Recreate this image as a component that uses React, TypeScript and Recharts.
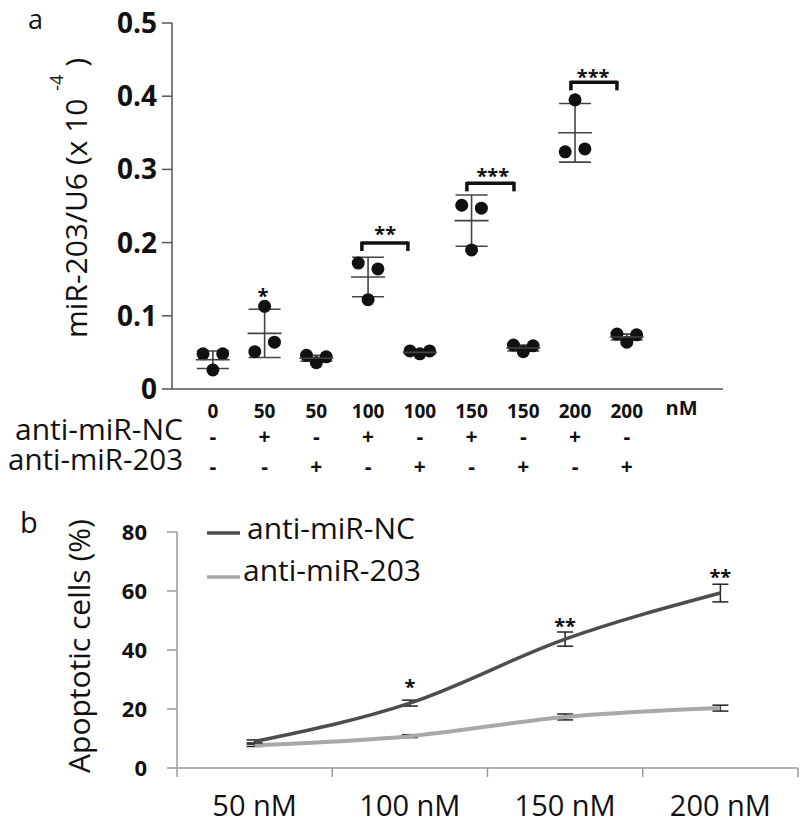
import React from 'react';
import {
  ComposedChart,
  Scatter,
  XAxis,
  YAxis,
  ErrorBar,
  ReferenceLine,
  Line,
} from 'recharts';

const FONT = '"Open Sans", "DejaVu Sans", sans-serif';
const INK = '#111111';

// ---------- Panel a data ----------
const concentrations = ['0', '50', '50', '100', '100', '150', '150', '200', '200'];
const unitLabel = 'nM';
const ncSigns = ['-', '+', '-', '+', '-', '+', '-', '+', '-'];
const mirSigns = ['-', '-', '+', '-', '+', '-', '+', '-', '+'];
const rowLabels = ['anti-miR-NC', 'anti-miR-203'];
// replicate values per group: [left, right, centre]
const replicates = [
  [0.048, 0.048, 0.026],
  [0.051, 0.064, 0.113],
  [0.046, 0.044, 0.036],
  [0.172, 0.164, 0.122],
  [0.052, 0.052, 0.048],
  [0.251, 0.247, 0.19],
  [0.06, 0.059, 0.051],
  [0.324, 0.328, 0.395],
  [0.075, 0.074, 0.064],
];
const groupMeans = [0.04, 0.076, 0.042, 0.153, 0.05, 0.23, 0.056, 0.35, 0.071];
const groupSD = [0.012, 0.033, 0.004, 0.027, 0.002, 0.035, 0.004, 0.04, 0.004];
const starsA = [
  { x: 0.97, y: 0.1325, text: '*' },
  { x: 3.33, y: 0.217, text: '**' },
  { x: 5.41, y: 0.296, text: '***' },
  { x: 7.35, y: 0.432, text: '***' },
];
const bracketsA = [
  { x1: 2.88, x2: 3.77, y: 0.1995 },
  { x1: 4.91, x2: 5.82, y: 0.281 },
  { x1: 6.92, x2: 7.81, y: 0.419 },
];
const yTicksA = [0, 0.1, 0.2, 0.3, 0.4, 0.5];

// ---------- Panel b data ----------
const doses = ['50 nM', '100 nM', '150 nM', '200 nM'];
const seriesNames = ['anti-miR-NC', 'anti-miR-203'];
const ncApoptosis = [9.0, 22.0, 43.7, 59.3];
const ncErr = [0.5, 1.0, 2.4, 3.0];
const mirApoptosis = [7.7, 10.8, 17.3, 20.3];
const mirErr = [0.4, 0.5, 1.0, 1.0];
const starsB = [
  { x: 1.5, y: 28.8, text: '*' },
  { x: 2.5, y: 49.5, text: '**' },
  { x: 3.5, y: 66.1, text: '**' },
];
const yTicksB = [0, 20, 40, 60, 80];

// ---------- derived tables ----------
const REP_OFFSET = [-0.19, 0.19, 0];
const dotData = replicates.flatMap((vals, g) =>
  vals.map((v, j) => ({ x: g + REP_OFFSET[j], y: v }))
);
const meanData = groupMeans.map((m, g) => ({ x: g, y: m, err: groupSD[g] }));
const rowsB = doses.map((d, i) => ({
  x: i + 0.5,
  nc: ncApoptosis[i],
  ncErr: ncErr[i],
  mir: mirApoptosis[i],
  mirErr: mirErr[i],
}));

const NC_COLOR = '#4d4d4d';
const MIR_COLOR = '#a8a8a8';

const DotShape = (p: any) => <circle cx={p.cx} cy={p.cy} r={6.5} fill={INK} />;
const MeanShape = (p: any) => (
  <line x1={p.cx - 17} x2={p.cx + 17} y1={p.cy} y2={p.cy} stroke="#444" strokeWidth={1.6} />
);
const StarShape = (p: any) => (
  <text
    x={p.cx}
    y={p.cy + 11}
    textAnchor="middle"
    fontFamily={FONT}
    fontWeight={700}
    fontSize={20}
    fill={INK}
  >
    {p.payload.text}
  </text>
);

const TickA = (p: any) => {
  const { x, y, payload } = p;
  const v = Math.round(payload.value);
  if (v === 9) {
    return (
      <text x={x + 3} y={y + 26} textAnchor="middle" fontFamily={FONT} fontWeight={700} fontSize={20} fill={INK}>
        {unitLabel}
      </text>
    );
  }
  return (
    <g>
      <text x={x} y={y + 29} textAnchor="middle" fontFamily={FONT} fontWeight={700} fontSize={19} fill={INK}>
        {concentrations[v]}
      </text>
      <text x={x} y={y + 55} textAnchor="middle" fontFamily={FONT} fontWeight={700} fontSize={21} fill={INK}>
        {ncSigns[v]}
      </text>
      <text x={x} y={y + 85} textAnchor="middle" fontFamily={FONT} fontWeight={700} fontSize={21} fill={INK}>
        {mirSigns[v]}
      </text>
    </g>
  );
};

const TickB = (p: any) => {
  const { x, y, payload } = p;
  const v = payload.value;
  if (Math.abs(v - Math.round(v)) < 1e-6) {
    return <line x1={x} x2={x} y1={y} y2={y + 9} stroke="#9a9a9a" strokeWidth={1.5} />;
  }
  return (
    <text x={x} y={y + 48} textAnchor="middle" fontFamily={FONT} fontSize={29} fill={INK}>
      {doses[Math.floor(v)]}
    </text>
  );
};

const YLabelA = () => (
  <text transform="translate(87,198) rotate(-90)" textAnchor="middle" fontFamily={FONT} fontSize={30} fill={INK}>
    <tspan>miR-203/U6 (x 10 </tspan>
    <tspan fontSize={18} dy={-24}>-4</tspan>
    <tspan dy={24}> )</tspan>
  </text>
);

// panel b svg starts at page y = 500
const YLabelB = () => (
  <text transform="translate(90,146) rotate(-90)" textAnchor="middle" fontFamily={FONT} fontSize={30} fill={INK}>
    Apoptotic cells (%)
  </text>
);

export default function App() {
  return (
    <div style={{ position: 'absolute', left: 0, top: 0, width: 800, height: 826, background: '#fff', fontFamily: FONT }}>
      <div style={{ position: 'absolute', left: 0, top: 0 }}>
        <ComposedChart width={800} height={500} margin={{ top: 23, right: 77, bottom: 11, left: 112 }}>
          <XAxis
            type="number"
            dataKey="x"
            domain={[-0.79, 9.86]}
            allowDataOverflow
            ticks={[0, 1, 2, 3, 4, 5, 6, 7, 8, 9]}
            interval={0}
            tickLine={false}
            tickSize={0}
            tickMargin={0}
            height={100}
            stroke="#555"
            strokeWidth={1.5}
            tick={<TickA />}
          />
          <YAxis
            type="number"
            domain={[0, 0.5]}
            allowDataOverflow
            ticks={yTicksA}
            interval={0}
            width={60}
            tickSize={10}
            tickMargin={5}
            stroke="#555"
            strokeWidth={1.5}
            tickFormatter={(v: number) => (v === 0 ? '0' : v.toFixed(1))}
            tick={{ fontSize: 28, fontWeight: 700, fill: INK, fontFamily: FONT }}
            label={<YLabelA />}
          />
          {bracketsA.map((b, i) => (
            <ReferenceLine
              key={'h' + i}
              segment={[{ x: b.x1, y: b.y }, { x: b.x2, y: b.y }]}
              stroke={INK}
              strokeWidth={3.5}
            />
          ))}
          {bracketsA.map((b, i) => (
            <ReferenceLine
              key={'l' + i}
              segment={[{ x: b.x1, y: b.y + 0.002 }, { x: b.x1, y: b.y - 0.011 }]}
              stroke={INK}
              strokeWidth={3.5}
            />
          ))}
          {bracketsA.map((b, i) => (
            <ReferenceLine
              key={'r' + i}
              segment={[{ x: b.x2, y: b.y + 0.002 }, { x: b.x2, y: b.y - 0.011 }]}
              stroke={INK}
              strokeWidth={3.5}
            />
          ))}
          <Scatter data={dotData} dataKey="y" shape={<DotShape />} isAnimationActive={false} />
          <Scatter data={meanData} dataKey="y" shape={<MeanShape />} isAnimationActive={false}>
            <ErrorBar dataKey="err" direction="y" width={16} stroke="#444" strokeWidth={1.6} />
          </Scatter>
          <Scatter data={starsA} dataKey="y" shape={<StarShape />} isAnimationActive={false} />
        </ComposedChart>
      </div>

      <div style={{ position: 'absolute', left: 0, top: 500 }}>
        <ComposedChart width={800} height={326} data={rowsB} margin={{ top: 32, right: 2, bottom: 8, left: 117 }}>
          <XAxis
            type="number"
            dataKey="x"
            domain={[0, 4]}
            allowDataOverflow
            ticks={[0, 0.5, 1, 1.5, 2, 2.5, 3, 3.5, 4]}
            interval={0}
            tickLine={false}
            tickSize={0}
            tickMargin={0}
            height={50}
            stroke="#9a9a9a"
            strokeWidth={1.5}
            tick={<TickB />}
          />
          <YAxis
            type="number"
            domain={[0, 80]}
            allowDataOverflow
            ticks={yTicksB}
            interval={0}
            width={60}
            tickSize={10}
            tickMargin={20}
            stroke="#9a9a9a"
            strokeWidth={1.5}
            tick={{ fontSize: 22, fontWeight: 700, fill: INK, fontFamily: FONT }}
            label={<YLabelB />}
          />
          <Line
            type="monotone"
            dataKey="mir"
            stroke={MIR_COLOR}
            strokeWidth={4}
            dot={false}
            isAnimationActive={false}
          >
            <ErrorBar dataKey="mirErr" width={8} stroke="#222" strokeWidth={1.5} />
          </Line>
          <Line
            type="monotone"
            dataKey="nc"
            stroke={NC_COLOR}
            strokeWidth={3.5}
            dot={false}
            isAnimationActive={false}
          >
            <ErrorBar dataKey="ncErr" width={8} stroke="#222" strokeWidth={1.5} />
          </Line>
          <Scatter data={starsB} dataKey="y" shape={<StarShape />} isAnimationActive={false} />
        </ComposedChart>
      </div>

      <svg width={800} height={826} style={{ position: 'absolute', left: 0, top: 0, pointerEvents: 'none' }}>
        <text x={28} y={29} fontFamily={FONT} fontSize={27} fill={INK}>a</text>
        <text x={20} y={533} fontFamily={FONT} fontSize={29} fill={INK}>b</text>
        <text x={183} y={440} textAnchor="end" fontFamily={FONT} fontSize={30} fill={INK}>{rowLabels[0]}</text>
        <text x={183} y={470} textAnchor="end" fontFamily={FONT} fontSize={29.5} fill={INK}>{rowLabels[1]}</text>
        <line x1={207} x2={240} y1={533} y2={533} stroke={NC_COLOR} strokeWidth={3.5} />
        <text x={247} y={539} fontFamily={FONT} fontSize={30} fill={INK}>{seriesNames[0]}</text>
        <line x1={207} x2={240} y1={577} y2={577} stroke={MIR_COLOR} strokeWidth={3.5} />
        <text x={243} y={581} fontFamily={FONT} fontSize={30} fill={INK}>{seriesNames[1]}</text>
      </svg>
    </div>
  );
}
